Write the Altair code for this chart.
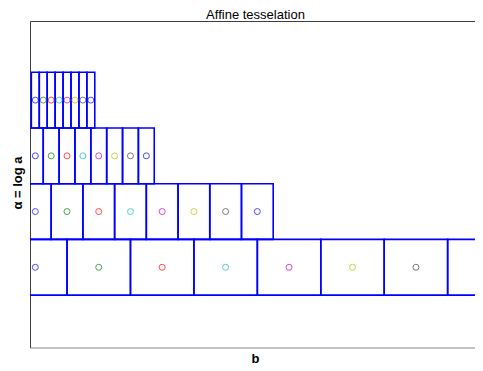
import altair as alt
import pandas as pd

# scale a of each row (alpha = log2 a), and translation indices k (b = k * a)
scales = [1, 2, 4, 8]
alphas = [0, 1, 2, 3]
shifts = [0, 1, 2, 3, 4, 5, 6, 7]
circle_colors = ["#0000ff", "#008000", "#ff0000", "#00bfbf",
                 "#bf00bf", "#bfbf00", "#404040", "#0000ff"]

rows = []
for a, al in zip(scales, alphas):
    for k, c in zip(shifts, circle_colors):
        b = k * a
        rows.append({"b": b, "b0": b - a / 2, "b1": b + a / 2,
                     "alpha": al, "a0": al - 0.5, "a1": al + 0.5, "color": c})
df = pd.DataFrame(rows)

W, H = 445, 326.5
xs = alt.Scale(domain=[-0.67, 55.45], nice=False, zero=False)
ys = alt.Scale(domain=[-1.42, 4.44], nice=False, zero=False, reverse=True)

FRAME = "#404040"
xaxis = alt.Axis(title="b", labels=False, ticks=False, domain=True, grid=False,
                 domainColor="#999999", domainWidth=1,
                 titleFont="Liberation Sans", titleFontSize=13, titleFontWeight="bold",
                 titleColor="#000000", titleX=225, titleY=11, titleAlign="center",
                 titleBaseline="middle")
yaxis = alt.Axis(title="α = log a", labels=False, ticks=False, domain=True, grid=False,
                 domainColor=FRAME, domainWidth=1,
                 titleFont="Liberation Sans", titleFontSize=13, titleFontWeight="bold",
                 titleColor="#000000", titleX=-13, titleY=161.5, titleAngle=-90,
                 titleAlign="center", titleBaseline="middle")
# the top frame line carries the chart title
topaxis = alt.Axis(orient="top", title="Affine tesselation", labels=False, ticks=False,
                   domain=True, grid=False, domainColor=FRAME, domainWidth=1,
                   titleFont="Liberation Sans", titleFontSize=13, titleFontWeight="normal",
                   titleColor="#000000", titleX=225, titleY=-3, titleAlign="center",
                   titleBaseline="alphabetic")

base = alt.Chart(df)
rects = base.mark_rect(fillOpacity=0, stroke="#0000ff", strokeWidth=1.6, clip=True).encode(
    x=alt.X("b0:Q", scale=xs, axis=xaxis),
    x2="b1:Q",
    y=alt.Y("a0:Q", scale=ys, axis=yaxis),
    y2="a1:Q",
)
points = base.mark_point(shape="circle", size=36, strokeWidth=1, filled=False, clip=True).encode(
    x=alt.X("b:Q", scale=xs, axis=topaxis),
    y=alt.Y("alpha:Q", scale=ys, axis=yaxis),
    color=alt.Color("color:N", scale=None),
)

chart = alt.layer(rects, points).resolve_axis(x="independent").properties(
    width=W, height=H,
    autosize=alt.AutoSizeParams(type="none"),
    padding={"left": 22, "top": 13, "right": 0, "bottom": 23},
).configure_view(strokeWidth=0).configure(background="white")

chart.save("out.html", embed_options={"renderer": "svg", "actions": False})
